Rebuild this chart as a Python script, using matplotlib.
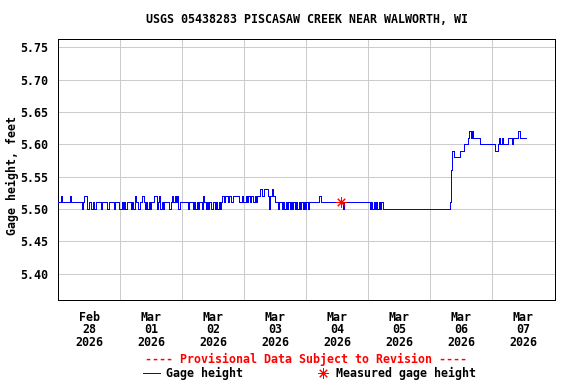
import numpy as np
import pandas as pd
import matplotlib
matplotlib.use("Agg")
import matplotlib.pyplot as plt
import matplotlib.dates as mdates
from matplotlib.lines import Line2D

# Gage height in hundredths of a foot, one reading every 30 minutes
feb28 = [551, 551, 552, 551, 551, 551, 551, 551, 551, 552, 551, 551, 551, 551, 551, 551,
         551, 551, 550, 551, 552, 552, 550, 550, 551, 550, 550, 551, 550, 551, 551, 551,
         551, 550, 551, 551, 551, 551, 550, 551, 551, 551, 551, 550, 551, 551, 551, 550]
mar01 = [550, 551, 550, 551, 550, 551, 551, 551, 550, 551, 550, 552, 551, 551, 550, 551,
         551, 552, 551, 550, 551, 550, 551, 550, 551, 551, 552, 552, 550, 551, 552, 550,
         551, 550, 551, 551, 551, 551, 550, 551, 552, 551, 552, 551, 552, 550, 551, 551]
mar02 = [551, 551, 551, 551, 550, 551, 551, 551, 550, 551, 550, 551, 550, 551, 551, 550,
         552, 551, 550, 551, 550, 551, 550, 550, 551, 550, 551, 550, 551, 550, 551, 552,
         551, 552, 552, 551, 552, 552, 551, 552, 552, 552, 552, 552, 551, 551, 552, 551]
mar03 = [551, 552, 551, 552, 551, 552, 552, 551, 552, 551, 552, 552, 553, 553, 552, 553,
         553, 553, 552, 550, 552, 553, 552, 552, 551, 551, 550, 551, 551, 550, 551, 550,
         551, 550, 551, 550, 551, 550, 551, 550, 551, 550, 551, 550, 551, 550, 551, 550]
mar04 = [551, 550, 551, 551, 551, 551, 551, 551, 551, 551, 552, 551, 551, 551, 551, 551,
         551, 551, 551, 551, 551, 551, 551, 551, 551, 551, 551, 551, 550, 551, 551, 551,
         551, 551, 551, 551, 551, 551, 551, 551, 551, 551, 551, 551, 551, 551, 551, 551]
mar05 = [551, 550, 551, 550, 551, 550, 551, 550, 551, 550, 551, 550, 550, 550, 550, 550,
         550, 550, 550, 550, 550, 550, 550, 550, 550, 550, 550, 550, 550, 550, 550, 550,
         550, 550, 550, 550, 550, 550, 550, 550, 550, 550, 550, 550, 550, 550, 550, 550]
mar06 = [550, 550, 550, 550, 550, 550, 550, 550, 550, 550, 550, 550, 550, 550, 550, 551,
         556, 559, 558, 558, 558, 558, 558, 559, 559, 559, 560, 560, 560, 561, 562, 561,
         562, 561, 561, 561, 561, 561, 560, 560, 560, 560, 560, 560, 560, 560, 560, 560]
mar07 = [560, 560, 559, 559, 560, 561, 560, 561, 560, 560, 560, 560, 561, 561, 561, 560,
         561, 561, 561, 561, 562, 561, 561, 561, 561, 561, 561]

measured_time = ["2026-03-04 13:15"]
measured_value = [5.51]

y_ticks = [5.40, 5.45, 5.50, 5.55, 5.60, 5.65, 5.70, 5.75]

readings = feb28 + mar01 + mar02 + mar03 + mar04 + mar05 + mar06 + mar07
times = pd.date_range("2026-02-28 00:00", periods=len(readings), freq="30min")
gage = np.array(readings) / 100.0

mono = "DejaVu Sans Mono"
fs = 8.4
px = 0.72  # one pixel at 100 dpi

fig = plt.figure(figsize=(5.76, 3.84), dpi=100)
ax = fig.add_axes([58.3 / 576, 1 - 299.5 / 384, 496.2 / 576, 260.2 / 384])

ax.plot(times, gage, color="#0000ff", linewidth=px, drawstyle="steps-post",
        antialiased=False, zorder=3)
ax.plot(pd.to_datetime(measured_time), measured_value, linestyle="none",
        marker=(8, 2, 0), markersize=7.5, markeredgecolor="#ff0000",
        markeredgewidth=px, zorder=4)

ax.set_xlim(pd.Timestamp("2026-02-28"), pd.Timestamp("2026-03-08"))
ax.set_ylim(5.3598, 5.7624)

ax.set_yticks(y_ticks)
ax.set_yticklabels([f"{v:.2f}" for v in y_ticks], fontfamily=mono,
                   fontweight="bold", fontsize=fs)

ax.xaxis.set_major_locator(mdates.DayLocator())
ax.xaxis.set_major_formatter(plt.NullFormatter())
ax.xaxis.set_minor_locator(mdates.HourLocator(byhour=[12]))
ax.xaxis.set_minor_formatter(mdates.DateFormatter("%b\n%d\n%Y"))
for lab in ax.xaxis.get_minorticklabels():
    lab.set_fontfamily(mono)
    lab.set_fontweight("bold")
    lab.set_fontsize(fs)
    lab.set_linespacing(0.98)

ax.tick_params(axis="both", which="both", length=0)
ax.tick_params(axis="y", pad=7)
ax.tick_params(axis="x", which="minor", pad=8)

ax.grid(True, which="major", color="#cccccc", linewidth=px, antialiased=False)
ax.set_axisbelow(True)
for sp in ax.spines.values():
    sp.set_linewidth(px)
    sp.set_color("black")
    sp.set_antialiased(False)

ax.set_ylabel("Gage height, feet", fontfamily=mono, fontweight="bold", fontsize=fs)
ax.yaxis.set_label_coords(-0.080, 0.477)

fig.text(307 / 576, 1 - 19.5 / 384, "USGS 05438283 PISCASAW CREEK NEAR WALWORTH, WI",
         ha="center", va="center", fontfamily=mono, fontweight="bold", fontsize=fs)

fig.text(306.4 / 576, 1 - 359 / 384, "---- Provisional Data Subject to Revision ----",
         ha="center", va="center", color="#ff0000", fontfamily=mono,
         fontweight="bold", fontsize=fs)

# legend row
fig.add_artist(Line2D([142.5 / 576, 160 / 576], [1 - 373 / 384, 1 - 373 / 384],
                      color="#0000ff", linewidth=px, antialiased=False))
fig.text(165.5 / 576, 1 - 373 / 384, "Gage height", ha="left", va="center",
         fontfamily=mono, fontweight="bold", fontsize=fs)
fig.add_artist(Line2D([322.5 / 576], [1 - 373 / 384], linestyle="none",
                      marker=(8, 2, 0), markersize=7.5, markeredgecolor="#ff0000",
                      markeredgewidth=px))
fig.text(336.5 / 576, 1 - 373 / 384, "Measured gage height", ha="left", va="center",
         fontfamily=mono, fontweight="bold", fontsize=fs)

fig.savefig("out.png", dpi=100)
